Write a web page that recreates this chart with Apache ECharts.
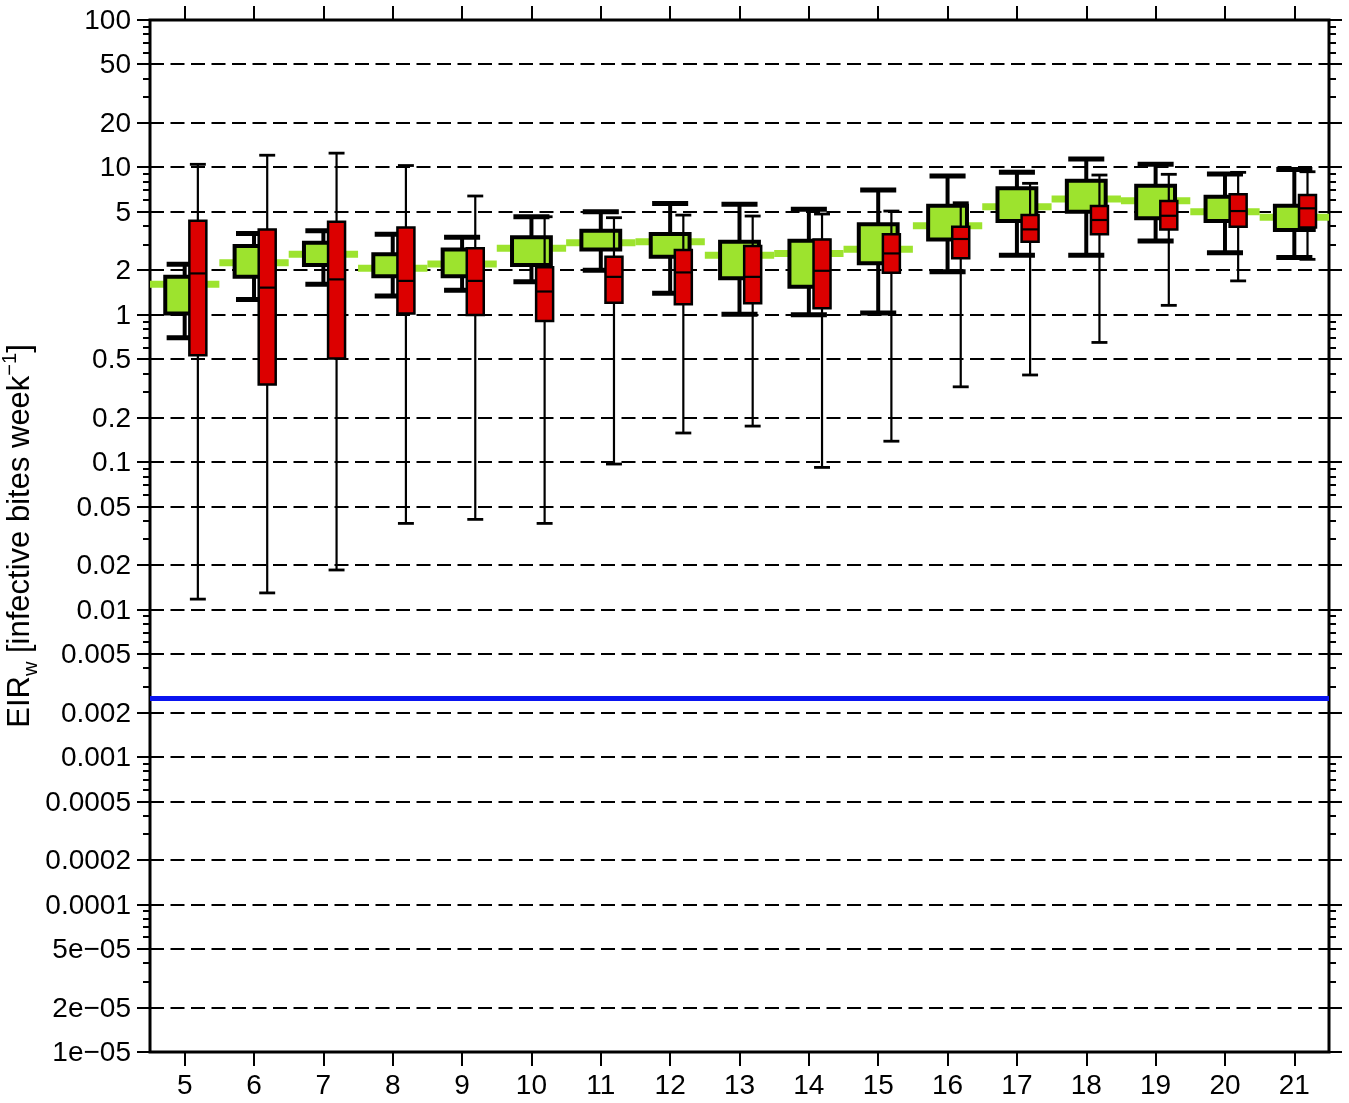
<!DOCTYPE html>
<html>
<head>
<meta charset="utf-8">
<script src="https://cdn.jsdelivr.net/npm/echarts@6/dist/echarts.min.js"></script>
<style>
  html, body { margin: 0; padding: 0; background: #fff; }
  #chart { width: 1349px; height: 1103px; }
</style>
</head>
<body>
<div id="chart"></div>
<script>
// Week numbers along the x axis
const categories = ['5','6','7','8','9','10','11','12','13','14','15','16','17','18','19','20','21'];

// Green boxes: whisker ends, quartiles and mean (infective bites per week)
const greenLow  = [0.70, 1.27, 1.61, 1.34, 1.47, 1.68, 2.01, 1.40, 1.01, 1.00, 1.03, 1.96, 2.54, 2.54, 3.17, 2.64, 2.45];
const greenQ1   = [1.02, 1.81, 2.18, 1.83, 1.83, 2.18, 2.78, 2.48, 1.77, 1.55, 2.24, 3.25, 4.33, 5.01, 4.52, 4.33, 3.76];
const greenQ3   = [1.81, 2.93, 3.08, 2.58, 2.78, 3.36, 3.72, 3.54, 3.13, 3.18, 4.11, 5.50, 7.21, 8.12, 7.51, 6.33, 5.50];
const greenHigh = [2.20, 3.57, 3.72, 3.52, 3.36, 4.63, 5.01, 5.70, 5.62, 5.20, 7.02, 8.74, 9.26, 11.4, 10.5, 9.02, 9.70];
const greenMean = [1.61, 2.26, 2.58, 2.07, 2.21, 2.83, 3.08, 3.13, 2.54, 2.61, 2.79, 4.02, 5.42, 6.10, 5.94, 5.01, 4.59];

// Red boxes: whisker ends, quartiles and median
const redLow    = [0.0118, 0.0130, 0.0186, 0.0385, 0.041, 0.0385, 0.0973, 0.158, 0.176, 0.0923, 0.139, 0.325, 0.391, 0.650, 1.16, 1.70, 2.38];
const redQ1     = [0.533, 0.337, 0.506, 1.02, 0.997, 0.908, 1.21, 1.18, 1.20, 1.11, 1.93, 2.42, 3.13, 3.52, 3.80, 3.96, 3.92];
const redMedian = [1.91, 1.53, 1.74, 1.70, 1.70, 1.44, 1.81, 1.94, 1.81, 1.99, 2.61, 3.27, 3.80, 4.40, 4.70, 5.06, 5.28];
const redQ3     = [4.35, 3.80, 4.28, 3.92, 2.83, 2.10, 2.48, 2.75, 2.93, 3.25, 3.52, 3.96, 4.75, 5.47, 5.92, 6.57, 6.50];
const redHigh   = [10.5, 12.1, 12.5, 10.3, 6.40, 4.63, 4.56, 4.75, 4.68, 4.83, 5.06, 5.76, 7.80, 8.88, 8.98, 9.26, 9.35];

// Threshold level drawn as the blue line
const thresholdEIR = 0.0025;

// Labelled ticks of the logarithmic y axis
const yTickValues = [100, 50, 20, 10, 5, 2, 1, 0.5, 0.2, 0.1, 0.05, 0.02, 0.01, 0.005, 0.002, 0.001, 0.0005, 0.0002, 0.0001, 5e-5, 2e-5, 1e-5];
const yTickLabels = ['100', '50', '20', '10', '5', '2', '1', '0.5', '0.2', '0.1', '0.05', '0.02', '0.01', '0.005', '0.002', '0.001', '0.0005', '0.0002', '0.0001', '5e\u221205', '2e\u221205', '1e\u221205'];
// Unlabelled minor ticks: these multiples of each decade
const yMinorMultipliers = [3, 4, 6, 7, 8, 9];
const yMinorDecades = [1e-5, 1e-4, 1e-3, 1e-2, 1e-1, 1, 10];

const FONT = '"Liberation Sans", Arial, Helvetica, sans-serif';
const GREEN = '#9de32e';
const RED = '#dc0000';
const BLUE = '#0a14f0';

const minorTickValues = [];
yMinorDecades.forEach(d => yMinorMultipliers.forEach(m => minorTickValues.push(m * d)));

const chart = echarts.init(document.getElementById('chart'), null, { renderer: 'canvas' });

function bandWidth(params) {
  return params.coordSys.width / categories.length;
}

// Dashed grid lines, tick marks on both sides, and tick labels
function renderMajorTick(params, api) {
  const idx = api.value(2);
  const v = api.value(1);
  const cs = params.coordSys;
  const y = Math.round(api.coord([0, v])[1]);
  const x0 = cs.x, x1 = cs.x + cs.width;
  const children = [];
  if (idx > 0 && idx < yTickValues.length - 1) {
    children.push({
      type: 'line',
      shape: { x1: x0, y1: y, x2: x1, y2: y },
      style: { stroke: '#000', lineWidth: 2, lineDash: [14, 6.5] }
    });
  }
  children.push({ type: 'line', shape: { x1: x0 - 13, y1: y, x2: x0, y2: y }, style: { stroke: '#000', lineWidth: 2 } });
  children.push({ type: 'line', shape: { x1: x1, y1: y, x2: x1 + 13, y2: y }, style: { stroke: '#000', lineWidth: 2 } });
  children.push({
    type: 'text',
    style: {
      text: yTickLabels[idx], x: x0 - 19, y: y + 1,
      align: 'right', verticalAlign: 'middle',
      fontSize: 28, fontFamily: FONT, fill: '#000'
    }
  });
  return { type: 'group', children: children };
}

function renderMinorTick(params, api) {
  const cs = params.coordSys;
  const y = Math.round(api.coord([0, api.value(1)])[1]);
  const x0 = cs.x, x1 = cs.x + cs.width;
  return {
    type: 'group',
    children: [
      { type: 'line', shape: { x1: x0 - 7, y1: y, x2: x0, y2: y }, style: { stroke: '#000', lineWidth: 2 } },
      { type: 'line', shape: { x1: x1, y1: y, x2: x1 + 7, y2: y }, style: { stroke: '#000', lineWidth: 2 } }
    ]
  };
}

// Horizontal threshold line across the whole plot
function renderThreshold(params, api) {
  const cs = params.coordSys;
  const y = api.coord([0, api.value(1)])[1];
  return {
    type: 'line',
    shape: { x1: cs.x, y1: y, x2: cs.x + cs.width, y2: y },
    style: { stroke: BLUE, lineWidth: 5 }
  };
}

// Mean level: a thick bar spanning the full category width
function renderMean(params, api) {
  const i = api.value(0);
  const band = bandWidth(params);
  const p = api.coord([i, api.value(1)]);
  return {
    type: 'rect',
    shape: { x: p[0] - band / 2, y: p[1] - 3.5, width: band, height: 7 },
    style: { fill: GREEN }
  };
}

function boxGroup(cx, ys, opt) {
  const [yLow, yQ1, yQ3, yHigh] = ys;
  return [
    { type: 'line', shape: { x1: cx, y1: yHigh, x2: cx, y2: yQ3 }, style: { stroke: '#000', lineWidth: opt.whisker } },
    { type: 'line', shape: { x1: cx, y1: yQ1, x2: cx, y2: yLow }, style: { stroke: '#000', lineWidth: opt.whisker } },
    { type: 'line', shape: { x1: cx - opt.capW / 2, y1: yHigh, x2: cx + opt.capW / 2, y2: yHigh }, style: { stroke: '#000', lineWidth: opt.cap } },
    { type: 'line', shape: { x1: cx - opt.capW / 2, y1: yLow, x2: cx + opt.capW / 2, y2: yLow }, style: { stroke: '#000', lineWidth: opt.cap } },
    {
      type: 'rect',
      shape: { x: cx - opt.boxW / 2, y: yQ3, width: opt.boxW, height: yQ1 - yQ3 },
      style: { fill: opt.fill, stroke: '#000', lineWidth: opt.border }
    }
  ];
}

function renderGreen(params, api) {
  const i = api.value(0);
  const band = bandWidth(params);
  const cx = api.coord([i, 1])[0];
  const ys = [1, 2, 3, 4].map(d => api.coord([i, api.value(d)])[1]);
  return {
    type: 'group',
    children: boxGroup(cx, ys, {
      boxW: band * 0.56, capW: band * 0.52, whisker: 4, cap: 5, border: 4, fill: GREEN
    })
  };
}

function renderRed(params, api) {
  const i = api.value(0);
  const band = bandWidth(params);
  const cx = api.coord([i, 1])[0] + band * 0.19;
  const ys = [1, 2, 4, 5].map(d => api.coord([i, api.value(d)])[1]);
  const yMed = api.coord([i, api.value(3)])[1];
  const boxW = band * 0.245;
  const children = boxGroup(cx, ys, {
    boxW: boxW, capW: band * 0.23, whisker: 2.2, cap: 2.8, border: 2.5, fill: RED
  });
  children.push({
    type: 'line',
    shape: { x1: cx - boxW / 2, y1: yMed, x2: cx + boxW / 2, y2: yMed },
    style: { stroke: '#000', lineWidth: 2.2 }
  });
  return { type: 'group', children: children };
}

const majorTickData = yTickValues.map((v, k) => [0, v, k]);
const minorTickData = minorTickValues.map(v => [0, v]);
const meanData = greenMean.map((v, i) => [i, v]);
const greenData = categories.map((c, i) => [i, greenLow[i], greenQ1[i], greenQ3[i], greenHigh[i]]);
const redData = categories.map((c, i) => [i, redLow[i], redQ1[i], redMedian[i], redQ3[i], redHigh[i]]);

const xTickStyle = { show: true, alignWithLabel: true, length: 14, lineStyle: { color: '#000', width: 2 } };

chart.setOption({
  animation: false,
  backgroundColor: '#fff',
  grid: {
    left: 150, right: 20, top: 20, bottom: 51,
    outerBoundsMode: 'none', containLabel: false,
    show: true, borderColor: '#000', borderWidth: 3, backgroundColor: 'transparent'
  },
  xAxis: [
    {
      type: 'category', data: categories, position: 'bottom',
      axisLine: { show: false }, axisTick: xTickStyle,
      axisLabel: { fontSize: 28, color: '#000', margin: 20, fontFamily: FONT },
      splitLine: { show: false }
    },
    {
      type: 'category', data: categories, position: 'top',
      axisLine: { show: false }, axisTick: xTickStyle,
      axisLabel: { show: false }, splitLine: { show: false }
    }
  ],
  yAxis: {
    type: 'log', logBase: 10, min: 1e-5, max: 100,
    axisLine: { show: false }, axisTick: { show: false },
    axisLabel: { show: false }, splitLine: { show: false },
    name: '{a|EIR}{sub|w}{a| [infective bites week}{sup|\u22121}{a|]}',
    nameLocation: 'middle', nameRotate: 90, nameGap: 114,
    nameTextStyle: {
      fontFamily: FONT, color: '#000',
      rich: {
        a: { fontSize: 31, fontFamily: FONT, color: '#000', lineHeight: 38, verticalAlign: 'bottom' },
        sub: { fontSize: 20, fontFamily: FONT, color: '#000', lineHeight: 38, verticalAlign: 'bottom', padding: [0, 0, -5, 0] },
        sup: { fontSize: 20, fontFamily: FONT, color: '#000', lineHeight: 38, verticalAlign: 'top', padding: [2, 0, 0, 0] }
      }
    }
  },
  series: [
    { type: 'custom', name: 'yMajor', renderItem: renderMajorTick, data: majorTickData, encode: { x: 0, y: 1 }, z: 1, silent: true, clip: false },
    { type: 'custom', name: 'yMinor', renderItem: renderMinorTick, data: minorTickData, encode: { x: 0, y: 1 }, z: 1, silent: true, clip: false },
    { type: 'custom', name: 'threshold', renderItem: renderThreshold, data: [[0, thresholdEIR]], encode: { x: 0, y: 1 }, z: 2, silent: true, clip: false },
    { type: 'custom', name: 'mean', renderItem: renderMean, data: meanData, encode: { x: 0, y: 1 }, z: 3 },
    { type: 'custom', name: 'green', renderItem: renderGreen, data: greenData, encode: { x: 0, y: [1, 2, 3, 4] }, z: 4 },
    { type: 'custom', name: 'red', renderItem: renderRed, data: redData, encode: { x: 0, y: [1, 2, 3, 4, 5] }, z: 5 }
  ]
});
</script>
</body>
</html>
